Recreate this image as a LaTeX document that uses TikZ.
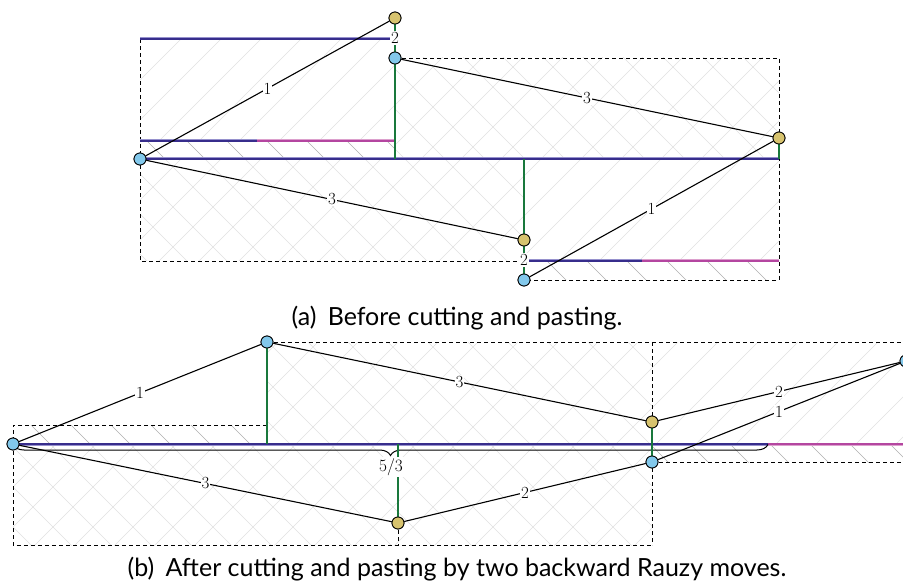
\documentclass[tikz,border=0pt]{standalone}
\usepackage{fontspec}
\setsansfont{Lato}
\usetikzlibrary{decorations.pathreplacing}

\definecolor{vblue}{RGB}{130,200,235}
\definecolor{vyellow}{RGB}{215,195,110}
\definecolor{sideblue}{RGB}{55,45,140}
\definecolor{sideblueedge}{RGB}{150,145,205}
\definecolor{sidemag}{RGB}{180,70,160}
\definecolor{sidemagedge}{RGB}{220,160,205}
\definecolor{gluegreen}{RGB}{25,120,60}
\definecolor{hatchlight}{RGB}{224,224,224}
\definecolor{hatchdark}{RGB}{175,175,175}

\tikzset{
  vtx/.style={circle,draw=black,line width=0.8pt,inner sep=0pt,minimum size=12pt},
  bv/.style={vtx,fill=vblue},
  yv/.style={vtx,fill=vyellow},
  edgeline/.style={line width=1.1pt,draw=black},
  elabel/.style={fill=white,inner sep=1pt,font=\fontsize{17}{17}\selectfont},
  glue/.style={draw=gluegreen,line width=1.6pt},
  frame/.style={draw=black,dash pattern=on 4pt off 3pt,line width=0.9pt},
  bside/.style={draw=sideblue,line width=1.4pt,preaction={draw=sideblueedge,line width=3pt}},
  mside/.style={draw=sidemag,line width=1.4pt,preaction={draw=sidemagedge,line width=3pt}},
  caption/.style={font=\sffamily\fontsize{25}{25}\selectfont,anchor=base,inner sep=0pt},
}

% hatching: "/" lines satisfy x+y = const, "\" lines x-y = const (y grows downward)
\newcommand\hatchNE[2]{%
  \begin{scope}
    \clip #1;
    \foreach \c in {20,60,...,1620}
      \draw[#2,line width=0.6pt] (\c+50,-50) -- (\c-650,650);
  \end{scope}}
\newcommand\hatchNW[2]{%
  \begin{scope}
    \clip #1;
    \foreach \d in {-634,-594,...,946}
      \draw[#2,line width=0.6pt] (\d-50,-50) -- (\d+650,650);
  \end{scope}}

\begin{document}
\begin{tikzpicture}[x=1pt,y=-1pt]
\useasboundingbox (0,0) rectangle (903,588);

% ---------- (a) before cutting and pasting ----------
\hatchNE{(140,39) rectangle (395,141)}{hatchlight}
\hatchNE{(395,58) rectangle (779,159)}{hatchlight}
\hatchNW{(395,58) rectangle (779,159)}{hatchlight}
\hatchNE{(140,159) rectangle (524,261)}{hatchlight}
\hatchNW{(140,159) rectangle (524,261)}{hatchlight}
\hatchNE{(524,159) rectangle (779,261)}{hatchlight}
\hatchNW{(140,141) rectangle (395,159)}{hatchdark}
\hatchNW{(524,261) rectangle (779,280)}{hatchdark}

\draw[frame] (140,39) -- (140,261) -- (524,261);
\draw[frame] (395,58) -- (779,58) -- (779,280) -- (524,280);

\draw[bside] (140,39) -- (395,39);
\draw[bside] (140,141) -- (257,141);
\draw[mside] (257,141) -- (395,141);
\draw[bside] (140,159) -- (779,159);
\draw[bside] (524,261) -- (642,261);
\draw[mside] (642,261) -- (779,261);

\node[bv] (a1) at (140,159) {};
\node[yv] (a2) at (395,18) {};
\node[bv] (a3) at (395,58) {};
\node[yv] (a4) at (779,138) {};
\node[yv] (a5) at (524,240) {};
\node[bv] (a6) at (524,280) {};
\coordinate (a3s) at (395,159);
\coordinate (a5s) at (524,159);
\coordinate (a4s) at (779,159);

\draw[glue] (a3) -- (a3s);
\draw[glue] (a5s) -- (a5);
\draw[glue] (a4) -- (a4s);
\draw[glue] (a2) -- node[elabel]{2} (a3);
\draw[glue] (a5) -- node[elabel]{2} (a6);

\draw[edgeline] (a1) -- node[elabel]{1} (a2);
\draw[edgeline] (a1) -- node[elabel]{3} (a5);
\draw[edgeline] (a3) -- node[elabel]{3} (a4);
\draw[edgeline] (a6) -- node[elabel]{1} (a4);

\foreach \v/\s in {a1/bv,a2/yv,a3/bv,a4/yv,a5/yv,a6/bv}
  \node[\s] at (\v) {};

\node[caption] (capa) at (457,326) {(a)\hspace{0.45em}Before cutting and pasting.};

% ---------- (b) after two backward Rauzy moves ----------
\hatchNE{(267,342) rectangle (652,444)}{hatchlight}
\hatchNW{(267,342) rectangle (652,444)}{hatchlight}
\hatchNE{(13,444) rectangle (652,545)}{hatchlight}
\hatchNW{(13,444) rectangle (652,545)}{hatchlight}
\hatchNE{(652,342) rectangle (903,444)}{hatchlight}
\hatchNW{(13,425) rectangle (267,444)}{hatchdark}
\hatchNW{(652,444) rectangle (903,462)}{hatchdark}

\draw[frame] (267,425) -- (13,425) -- (13,545) -- (652,545);
\draw[frame] (398,523) -- (398,545);
\draw[frame] (267,342) -- (903,342);
\draw[frame] (652,342) -- (652,545);
\draw[frame] (652,462) -- (903,462);

\draw[bside] (13,444) -- (768,444);
\draw[mside] (768,444) -- (903,444);

\node[bv] (b1) at (13,444) {};
\node[bv] (b2) at (267,342) {};
\node[yv] (b3) at (652,422) {};
\node[bv] (b4) at (652,462) {};
\node[yv] (b5) at (398,523) {};
\node[bv] (b6) at (906,361) {};
\coordinate (b2s) at (267,444);
\coordinate (b5s) at (398,444);
\coordinate (bl) at (13,444.5);
\coordinate (br) at (768,444.5);

\draw[decorate,decoration={brace,mirror,amplitude=11pt},line width=1pt] (bl) -- (br);

\draw[glue] (b2) -- (b2s);
\draw[glue] (b5s) -- (b5);
\draw[glue] (b3) -- (b4);
\node[elabel] (frac) at (391,467) {$5/3$};

\draw[edgeline] (b1) -- node[elabel]{1} (b2);
\draw[edgeline] (b1) -- node[elabel]{3} (b5);
\draw[edgeline] (b2) -- node[elabel]{3} (b3);
\draw[edgeline] (b5) -- node[elabel]{2} (b4);
\draw[edgeline] (b3) -- node[elabel]{2} (b6);
\draw[edgeline] (b4) -- node[elabel]{1} (b6);

\foreach \v/\s in {b1/bv,b2/bv,b3/yv,b4/bv,b5/yv,b6/bv}
  \node[\s] at (\v) {};

\node[caption] (capb) at (457,576) {(b)\hspace{0.45em}After cutting and pasting by two backward Rauzy moves.};
\end{tikzpicture}
\end{document}
